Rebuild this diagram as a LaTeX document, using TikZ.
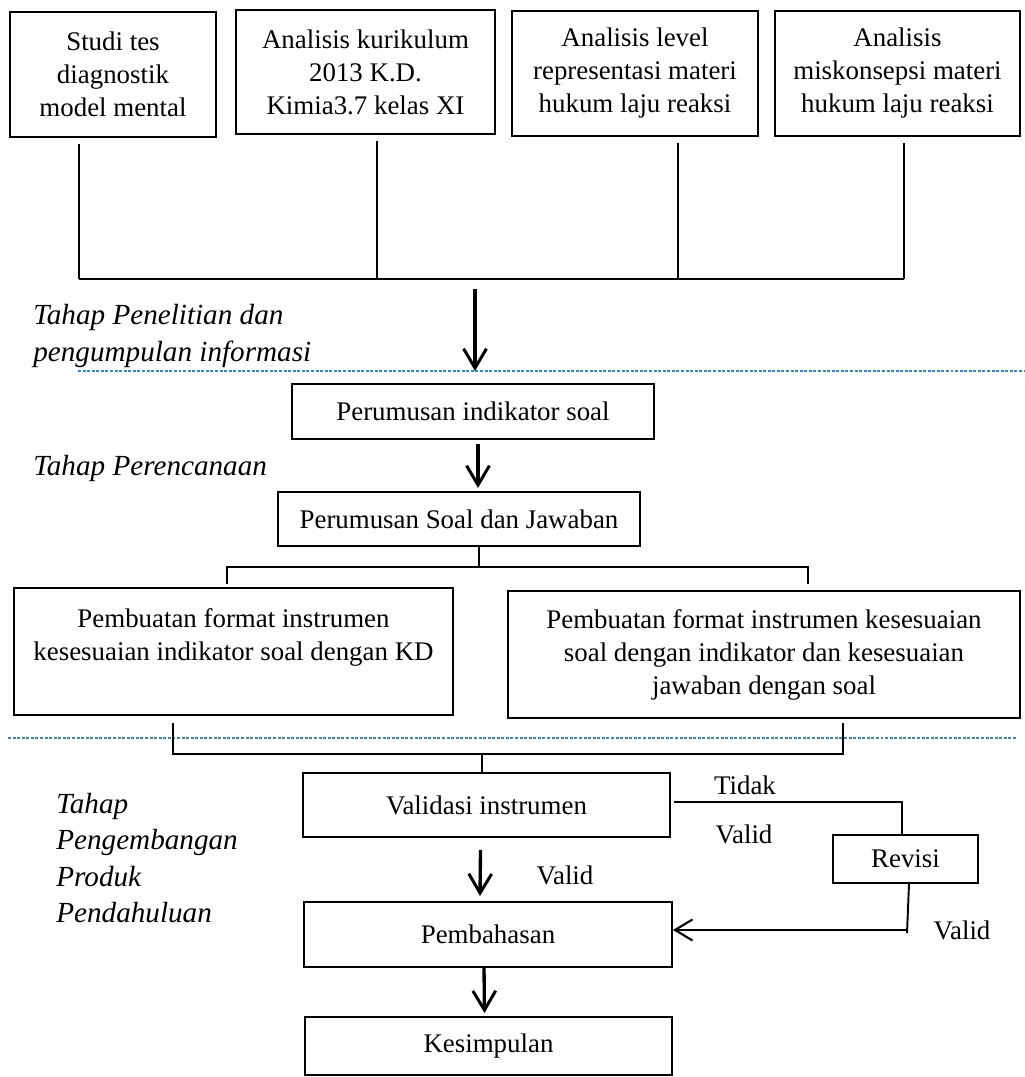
\documentclass[tikz,border=0pt]{standalone}
\usepackage{fontspec}
\setmainfont{Liberation Serif}
\usetikzlibrary{arrows.meta}
\definecolor{sepblue}{RGB}{45,135,215}
\tikzset{
  box/.style={draw, line width=1.1pt, align=center, inner sep=0pt, font=\fontsize{15.3}{18.8}\selectfont},
  txt/.style={inner sep=0pt, font=\fontsize{15.3}{18.8}\selectfont},
  stage/.style={anchor=west, align=left, inner sep=0pt, font=\fontsize{16.6}{20.6}\selectfont\itshape},
  line/.style={line width=1.1pt},
  flow/.style={line width=1.9pt, -{Straight Barb[length=11pt,width=13pt,line width=1.7pt]}},
  back/.style={line width=1.2pt, -{Straight Barb[length=10pt,width=12pt,line width=1.2pt]}},
  sep/.style={sepblue, line width=0.6pt, dash pattern=on 1.7pt off 0.9pt},
}
\begin{document}
\begin{tikzpicture}[x=0.02cm, y=-0.02cm]
\useasboundingbox (0,0) rectangle (1024,1077);

% studi awal
\node[box, minimum width=4.12cm, minimum height=2.5cm] (s1) at (113,74.5) {Studi tes\\ diagnostik\\ model mental};
\node[box, minimum width=5.18cm, minimum height=2.48cm] (s2) at (365.5,72) {Analisis kurikulum\\ 2013 K.D.\\ Kimia3.7 kelas XI};
\node[box, minimum width=4.92cm, minimum height=2.5cm] (s3) at (635,73.5) {Analisis level\\ representasi materi\\ hukum laju reaksi};
\node[box, minimum width=4.9cm, minimum height=2.5cm] (s4) at (897.5,73.5) {Analisis\\ miskonsepsi materi\\ hukum laju reaksi};

\coordinate (b1) at (79,279);
\coordinate (b2) at (377,279);
\coordinate (b3) at (678,279);
\coordinate (b4) at (904,279);
\foreach \i in {1,...,4}
  \draw[line] ([yshift=-0.12cm]b\i |- s\i.south) -- (b\i);
\draw[line] (b1) -- (b4);

\coordinate (top) at (475,289);
\coordinate (d1) at (78,371);
\draw[sep] (d1) -- (1024,371);
\draw[flow] (top) -- (top |- d1);

\node[stage] (st1) at (33,336) {Tahap Penelitian dan\\ pengumpulan informasi};

% perencanaan
\node[box, minimum width=7.24cm, minimum height=1.1cm] (indikator) at (473,411.5) {Perumusan indikator soal};
\node[box, minimum width=7.24cm, minimum height=1.08cm] (soal) at (459,519) {Perumusan Soal dan Jawaban};
\node[stage] (st2) at (33,468) {Tahap Perencanaan};
\draw[flow] ([shift={(5,4)}]indikator.south) -- ++(0,44);

\node[box, minimum width=8.78cm, minimum height=2.54cm] (format1) at (233.5,651.5) {Pembuatan format instrumen\\ kesesuaian indikator soal dengan KD\\ \mbox{}};
\node[box, minimum width=10.24cm, minimum height=2.54cm] (format2) at (764,654.5) {Pembuatan format instrumen kesesuaian\\ soal dengan indikator dan kesesuaian\\ jawaban dengan soal};

\coordinate (m1) at (479,567);
\coordinate (f1) at (227,567);
\coordinate (f2) at (808,567);
\draw[line] ([xshift=0.4cm]soal.south) -- (m1);
\draw[line] ([yshift=0.06cm]f1 |- format1.north) -- (f1) -- (f2) -- ([yshift=0.12cm]f2 |- format2.north);

\coordinate (d2) at (8,738);
\draw[sep] (d2) -- (1016,738);

% pengembangan
\node[box, minimum width=7.34cm, minimum height=1.28cm] (validasi) at (486.5,805) {Validasi instrumen};
\node[box, minimum width=2.9cm, minimum height=0.96cm] (revisi) at (905.5,859) {Revisi};
\node[box, minimum width=7.36cm, minimum height=1.3cm] (pembahasan) at (488,934.5) {Pembahasan};
\node[box, minimum width=7.34cm, minimum height=1.16cm] (kesimpulan) at (488.5,1046) {Kesimpulan};

\coordinate (g1) at (173,754);
\coordinate (g2) at (843,754);
\coordinate (g0) at (482,754);
\draw[line] ([yshift=-0.14cm]g1 |- format1.south) -- (g1) -- (g2) -- ([yshift=-0.08cm]g2 |- format2.south);
\draw[line] (g0) -- (g0 |- validasi.north);

\draw[line] ([shift={(3,-3)}]validasi.east) -| ([xshift=-0.07cm]revisi.north);
\coordinate (r1) at (907,930);
\draw[line] ([xshift=0.07cm]revisi.south) -- ([yshift=-0.06cm]r1);
\draw[back] (r1) -- (r1 -| pembahasan.east);
\draw[flow] ([shift={(-6,12)}]validasi.south) -- ([shift={(-8,-5)}]pembahasan.north);
\draw[flow] ([xshift=-0.08cm]pembahasan.south) -- ([shift={(-4,-3)}]kesimpulan.north);

\node[txt] (tidak) at (745,785) {Tidak};
\node[txt] (valid1) at (744,834) {Valid};
\node[txt] (valid2) at (565,875) {Valid};
\node[txt] (valid3) at (962,930) {Valid};

\node[stage] (st3) at (56,858) {Tahap\\ Pengembangan\\ Produk\\ Pendahuluan};
\end{tikzpicture}
\end{document}
